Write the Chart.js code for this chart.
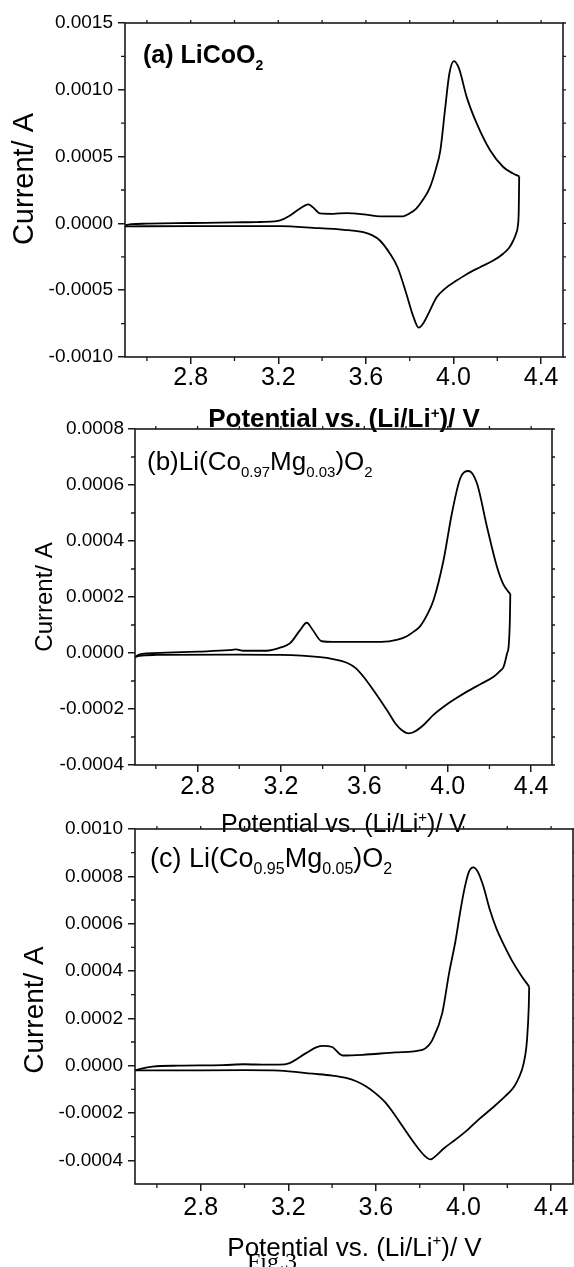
<!DOCTYPE html>
<html>
<head>
<meta charset="utf-8">
<script src="https://cdn.jsdelivr.net/npm/chart.js@4.4.1/dist/chart.umd.min.js"></script>
<style>
  body { margin: 0; background: #fff; }
  #wrap { position: relative; width: 574px; height: 1267px; overflow: hidden; }
  #wrap canvas { position: absolute; left: 0; }
</style>
</head>
<body>
<div id="wrap">
  <canvas id="cvA" width="574" height="460" style="top:0px"></canvas>
  <canvas id="cvB" width="574" height="480" style="top:380px"></canvas>
  <canvas id="cvC" width="574" height="487" style="top:780px"></canvas>
</div>
<script>
// potential (V) axis, shared by the three panels
const potentialTicks = [2.8, 3.2, 3.6, 4.0, 4.4];
const potentialMinor = [2.6, 3.0, 3.4, 3.8, 4.2];

// (a) LiCoO2 -- anodic sweep (up) and cathodic sweep (down), current in A
const currentTicksA = [-0.0010, -0.0005, 0, 0.0005, 0.0010, 0.0015];
const currentMinorA = [-0.00075, -0.00025, 0.00025, 0.00075, 0.00125];
const potA_up = [2.50, 2.53, 2.60, 2.80, 3.00, 3.10, 3.18, 3.208, 3.25, 3.299, 3.337, 3.36, 3.39, 3.45, 3.512, 3.60, 3.664, 3.77, 3.80, 3.83, 3.862, 3.893, 3.92, 3.94, 3.961, 3.981, 4.002, 4.02, 4.03, 4.06, 4.106, 4.167, 4.227, 4.27, 4.30];
const curA_up = [-0.000015, -0.000006, -0.000002, 0.000003, 0.000008, 0.000010, 0.000015, 0.000022, 0.000055, 0.000112, 0.000142, 0.000118, 0.000075, 0.000072, 0.000077, 0.000065, 0.000053, 0.000053, 0.000075, 0.000111, 0.000180, 0.000272, 0.000410, 0.000547, 0.000847, 0.001120, 0.001215, 0.001180, 0.001135, 0.000947, 0.000748, 0.000547, 0.000422, 0.000375, 0.000352];
const potA_down = [2.50, 2.80, 3.00, 3.208, 3.36, 3.50, 3.588, 3.63, 3.664, 3.71, 3.745, 3.785, 3.815, 3.841, 3.865, 3.89, 3.923, 3.96, 4.014, 4.06, 4.121, 4.18, 4.227, 4.255, 4.273, 4.287, 4.293, 4.298, 4.30];
const curA_down = [-0.000022, -0.000020, -0.000020, -0.000021, -0.000033, -0.000048, -0.000066, -0.000090, -0.000128, -0.000227, -0.000330, -0.000528, -0.000690, -0.000780, -0.000740, -0.000660, -0.000553, -0.000490, -0.000428, -0.000380, -0.000328, -0.000280, -0.000227, -0.000180, -0.000128, -0.000070, -0.000028, 0.000100, 0.000352];

// (b) Li(Co0.97Mg0.03)O2
const currentTicksB = [-0.0004, -0.0002, 0, 0.0002, 0.0004, 0.0006, 0.0008];
const currentMinorB = [-0.0003, -0.0001, 0.0001, 0.0003, 0.0005, 0.0007];
const potB_up = [2.50, 2.52, 2.56, 2.65, 2.80, 2.95, 2.985, 3.02, 3.13, 3.20, 3.244, 3.29, 3.324, 3.35, 3.396, 3.45, 3.52, 3.68, 3.76, 3.804, 3.84, 3.868, 3.90, 3.932, 3.98, 4.02, 4.06, 4.10, 4.14, 4.188, 4.236, 4.268, 4.30];
const curB_up = [-0.000015, -0.000006, -0.000001, 0.000001, 0.000005, 0.000010, 0.000013, 0.000008, 0.000008, 0.000020, 0.000035, 0.000080, 0.000108, 0.000085, 0.000042, 0.000040, 0.000040, 0.000040, 0.000048, 0.000060, 0.000078, 0.000096, 0.000135, 0.000189, 0.000332, 0.000499, 0.000624, 0.000650, 0.000606, 0.000451, 0.000308, 0.000243, 0.000211];
const potB_down = [2.50, 2.52, 2.60, 3.00, 3.196, 3.388, 3.45, 3.516, 3.56, 3.596, 3.636, 3.676, 3.715, 3.748, 3.78, 3.812, 3.84, 3.884, 3.93, 3.98, 4.04, 4.092, 4.16, 4.22, 4.25, 4.268, 4.285, 4.292, 4.298, 4.30];
const curB_down = [-0.000015, -0.000010, -0.000007, -0.000006, -0.000007, -0.000015, -0.000022, -0.000035, -0.000055, -0.000085, -0.000125, -0.000168, -0.000212, -0.000251, -0.000276, -0.000287, -0.000281, -0.000257, -0.000222, -0.000192, -0.000162, -0.000138, -0.000110, -0.000085, -0.000065, -0.000049, 0.000000, 0.000023, 0.000120, 0.000211];

// (c) Li(Co0.95Mg0.05)O2
const currentTicksC = [-0.0004, -0.0002, 0, 0.0002, 0.0004, 0.0006, 0.0008, 0.0010];
const currentMinorC = [-0.0003, -0.0001, 0.0001, 0.0003, 0.0005, 0.0007, 0.0009];
const potC_up = [2.50, 2.53, 2.58, 2.70, 2.90, 3.00, 3.10, 3.16, 3.206, 3.281, 3.33, 3.357, 3.40, 3.448, 3.54, 3.69, 3.812, 3.84, 3.858, 3.903, 3.934, 3.964, 3.985, 4.005, 4.025, 4.045, 4.065, 4.09, 4.12, 4.15, 4.174, 4.22, 4.267, 4.30];
const curC_up = [-0.000020, -0.000012, -0.000004, 0.000000, 0.000002, 0.000006, 0.000004, 0.000004, 0.000011, 0.000053, 0.000078, 0.000084, 0.000079, 0.000043, 0.000046, 0.000056, 0.000067, 0.000085, 0.000109, 0.000222, 0.000390, 0.000530, 0.000650, 0.000750, 0.000820, 0.000838, 0.000820, 0.000760, 0.000660, 0.000580, 0.000530, 0.000446, 0.000376, 0.000334];
const potC_down = [2.50, 2.60, 3.00, 3.16, 3.311, 3.40, 3.463, 3.51, 3.554, 3.60, 3.645, 3.68, 3.721, 3.76, 3.797, 3.825, 3.85, 3.875, 3.91, 3.964, 4.02, 4.07, 4.13, 4.191, 4.23, 4.252, 4.275, 4.29, 4.298, 4.30];
const curC_down = [-0.000020, -0.000020, -0.000019, -0.000021, -0.000034, -0.000042, -0.000052, -0.000066, -0.000087, -0.000118, -0.000157, -0.000200, -0.000255, -0.000308, -0.000354, -0.000383, -0.000396, -0.000380, -0.000350, -0.000312, -0.000270, -0.000227, -0.000180, -0.000129, -0.000090, -0.000052, 0.000011, 0.000109, 0.000250, 0.000334];

const sans = "'Liberation Sans', Arial, sans-serif";
const axisColor = '#1a1a1a';

Chart.defaults.font.family = sans;
Chart.defaults.color = '#000';

// draws a line of text made of normal / sub / sup pieces
function drawRich(ctx, t) {
  ctx.save();
  ctx.translate(t.x, t.y);
  if (t.rotate) ctx.rotate(t.rotate);
  const weight = t.bold ? 'bold ' : '';
  const fam = t.family || sans;
  const fontFor = k => weight + (k === 'n' ? t.size : t.small) + 'px ' + fam;
  let total = 0;
  t.segs.forEach(([s, k]) => { ctx.font = fontFor(k); total += ctx.measureText(s).width; });
  let cx = t.align === 'center' ? -total / 2 : 0;
  ctx.fillStyle = '#000';
  ctx.textAlign = 'left';
  ctx.textBaseline = 'alphabetic';
  t.segs.forEach(([s, k]) => {
    ctx.font = fontFor(k);
    const dy = k === 'sub' ? t.subDy : (k === 'sup' ? -t.supDy : 0);
    ctx.fillText(s, cx, dy);
    cx += ctx.measureText(s).width;
  });
  ctx.restore();
}

const frame = {
  id: 'frame',
  afterDraw(chart, args, opts) {
    const { ctx, chartArea: a } = chart;
    const x = chart.scales.x, y = chart.scales.y;
    ctx.save();
    ctx.strokeStyle = axisColor;
    ctx.lineWidth = 1.6;
    ctx.strokeRect(a.left, a.top, a.right - a.left, a.bottom - a.top);
    ctx.lineWidth = 1.3;
    ctx.beginPath();
    // minor ticks, outside, on the left and bottom axes
    potentialMinor.forEach(v => {
      const px = x.getPixelForValue(v);
      ctx.moveTo(px, a.bottom); ctx.lineTo(px, a.bottom + 4);
    });
    opts.yMinor.forEach(v => {
      const py = y.getPixelForValue(v);
      ctx.moveTo(a.left, py); ctx.lineTo(a.left - 4, py);
    });
    // short mirror ticks on the top and right edges
    potentialMinor.concat(potentialTicks).forEach(v => {
      const px = x.getPixelForValue(v);
      ctx.moveTo(px, a.top); ctx.lineTo(px, a.top - 3);
    });
    opts.yMinor.concat(opts.yMajor).forEach(v => {
      const py = y.getPixelForValue(v);
      ctx.moveTo(a.right, py); ctx.lineTo(a.right + 3, py);
    });
    ctx.stroke();
    ctx.restore();
    opts.texts.forEach(t => drawRich(ctx, Object.assign({}, t, { y: t.y - opts.offset })));
  }
};

function branch(pot, cur) {
  return {
    data: pot.map((v, k) => ({ x: v, y: cur[k] })),
    borderColor: '#000',
    borderWidth: 1.8,
    pointRadius: 0,
    fill: false,
    cubicInterpolationMode: 'monotone'
  };
}

function makePanel(id, p) {
  new Chart(document.getElementById(id), {
    type: 'line',
    data: { datasets: [branch(p.upV, p.upI), branch(p.downV, p.downI)] },
    options: {
      responsive: false,
      animation: false,
      devicePixelRatio: 1,
      layout: { padding: { top: p.top, right: p.right, left: 0, bottom: 0 } },
      plugins: {
        legend: { display: false },
        tooltip: { enabled: false },
        frame: { yMajor: p.yTicks, yMinor: p.yMinor, texts: p.texts, offset: p.offset }
      },
      scales: {
        x: {
          type: 'linear', min: 2.5, max: 4.5,
          afterBuildTicks: s => { s.ticks = potentialTicks.map(v => ({ value: v })); },
          afterFit: s => { s.height = p.xh; },
          grid: { drawOnChartArea: false, tickLength: 7, color: axisColor, lineWidth: 1.5 },
          border: { display: false },
          ticks: { font: { size: 25, lineHeight: 1 }, padding: p.xPad, maxRotation: 0,
                   callback: v => v.toFixed(1) }
        },
        y: {
          type: 'linear', min: p.yMin, max: p.yMax,
          afterBuildTicks: s => { s.ticks = p.yTicks.map(v => ({ value: v })); },
          afterFit: s => { s.width = p.yw; },
          grid: { drawOnChartArea: false, tickLength: 7, color: axisColor, lineWidth: 1.5 },
          border: { display: false },
          ticks: { font: { size: 19 }, padding: p.yPad, callback: v => v.toFixed(4) }
        }
      }
    },
    plugins: [frame]
  });
}

const xTitle = ['Potential vs. (Li/Li', 'n'];

makePanel('cvA', {
  upV: potA_up, upI: curA_up, downV: potA_down, downI: curA_down,
  yMin: -0.0010, yMax: 0.0015, yTicks: currentTicksA, yMinor: currentMinorA,
  top: 23, right: 11, xh: 103, yw: 125, xPad: 2, yPad: 5, offset: 0,
  texts: [
    { x: 143, y: 63, size: 25, small: 14, bold: true, subDy: 7,
      segs: [['(a) LiCoO', 'n'], ['2', 'sub']] },
    { x: 344, y: 427, size: 26, small: 15, bold: true, supDy: 9, align: 'center',
      segs: [xTitle, ['+', 'sup'], [')/ V', 'n']] },
    { x: 33, y: 179, size: 29, rotate: -Math.PI / 2, align: 'center',
      segs: [['Current/ A', 'n']] }
  ]
});

makePanel('cvB', {
  upV: potB_up, upI: curB_up, downV: potB_down, downI: curB_down,
  yMin: -0.0004, yMax: 0.0008, yTicks: currentTicksB, yMinor: currentMinorB,
  top: 49, right: 22, xh: 95, yw: 135, xPad: 3, yPad: 4, offset: 380,
  texts: [
    { x: 147, y: 470, size: 26, small: 15, subDy: 7,
      segs: [['(b)Li(Co', 'n'], ['0.97', 'sub'], ['Mg', 'n'], ['0.03', 'sub'], [')O', 'n'], ['2', 'sub']] },
    { x: 343.5, y: 832, size: 25, small: 15, supDy: 10, align: 'center',
      segs: [xTitle, ['+', 'sup'], [')/ V', 'n']] },
    { x: 52, y: 597, size: 24, rotate: -Math.PI / 2, align: 'center',
      segs: [['Current/ A', 'n']] }
  ]
});

makePanel('cvC', {
  upV: potC_up, upI: curC_up, downV: potC_down, downI: curC_down,
  yMin: -0.0005, yMax: 0.0010, yTicks: currentTicksC, yMinor: currentMinorC,
  top: 49, right: 1, xh: 83, yw: 135, xPad: 5, yPad: 5, offset: 780,
  texts: [
    { x: 150, y: 867, size: 27, small: 16, subDy: 7,
      segs: [['(c) Li(Co', 'n'], ['0.95', 'sub'], ['Mg', 'n'], ['0.05', 'sub'], [')O', 'n'], ['2', 'sub']] },
    { x: 354.5, y: 1256, size: 26, small: 15, supDy: 11, align: 'center',
      segs: [xTitle, ['+', 'sup'], [')/ V', 'n']] },
    { x: 43, y: 1010, size: 28, rotate: -Math.PI / 2, align: 'center',
      segs: [['Current/ A', 'n']] },
    { x: 247, y: 1269, size: 24, family: "'Liberation Serif', 'Times New Roman', serif",
      segs: [['Fig.3', 'n']] }
  ]
});
</script>
</body>
</html>
